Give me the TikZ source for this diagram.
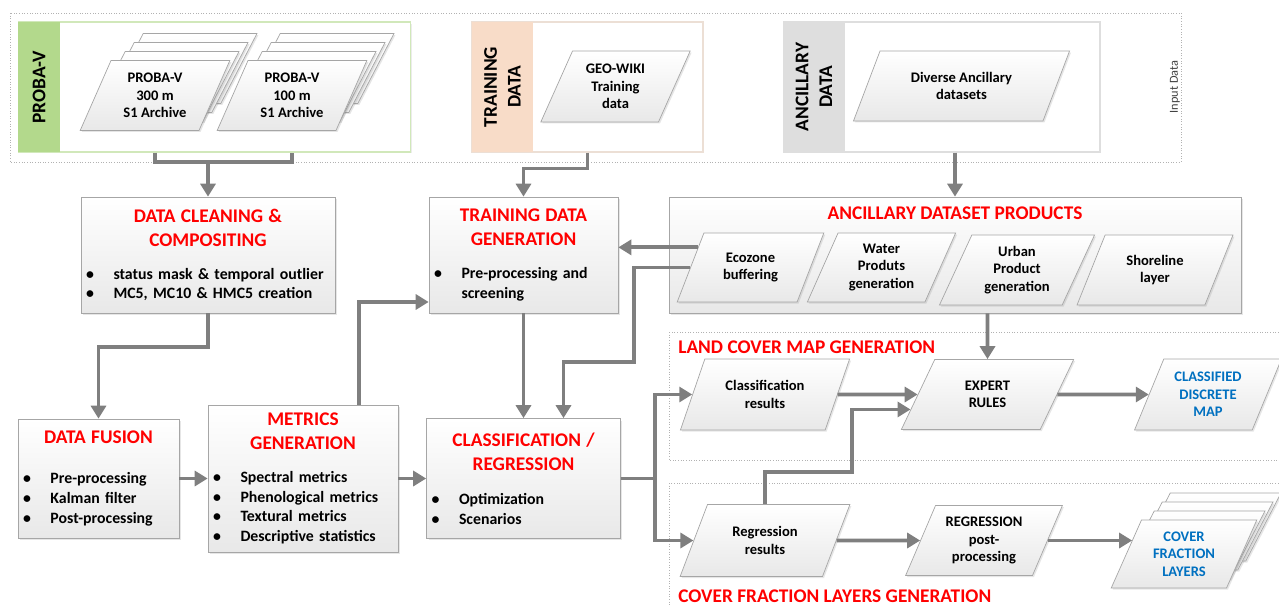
\documentclass[tikz,border=0pt]{standalone}
\usepackage{fontspec}
\setmainfont{Carlito}
\usetikzlibrary{shapes.geometric, arrows.meta, shadows}

\definecolor{linegrey}{HTML}{7F7F7F}
\definecolor{edgegrey}{HTML}{A6A6A6}
\definecolor{titlered}{HTML}{FF0000}
\definecolor{outblue}{HTML}{0070C0}
\definecolor{probagreen}{HTML}{B3D98C}
\definecolor{trainpeach}{HTML}{F8DCC8}
\definecolor{ancilgrey}{HTML}{DEDEDE}

\newcommand{\titlefont}{\fontsize{11}{13.6}\selectfont\bfseries}
\newcommand{\boxtitle}[2][7.4pt]{{\centering\color{titlered}\titlefont #2\par}\vspace{#1}}
\newcommand{\bitem}[2][0.55cm]{\noindent\hangindent=#1\hangafter=1%
\makebox[#1][l]{\textbullet}#2\par}

\tikzstyle{process} = [rectangle, 
draw=edgegrey, 
top color=white, bottom color=gray!18,
drop shadow={shadow xshift=0.04cm, shadow yshift=-0.04cm, opacity=0.2},
inner xsep=0.1cm, inner ysep=0.05cm,
align=left,
font=\fontsize{9}{11.3}\selectfont\bfseries]
\tikzstyle{io} = [trapezium, 
trapezium stretches=true,
trapezium left angle=65, 
trapezium right angle=115, 
minimum width=3cm, 
minimum height=1.4cm, align=center, 
draw=edgegrey, top color=white, bottom color=gray!18,
drop shadow={shadow xshift=0.03cm, shadow yshift=-0.03cm, opacity=0.2},
font=\fontsize{8.3}{9.9}\selectfont\bfseries]
\tikzstyle{panel} = [rectangle, fill=white, line width=0.6pt,
minimum height=2.6cm,
drop shadow={shadow xshift=0.03cm, shadow yshift=-0.03cm, opacity=0.15}]
\tikzstyle{strip} = [rectangle, rotate=90, minimum width=2.6cm, align=center,
font=\fontsize{11}{13.5}\selectfont\bfseries]
\tikzstyle{groupframe} = [densely dotted, draw=gray!60, line width=0.5pt]
\tikzstyle{grouptitle} = [anchor=west, text=titlered, font=\titlefont, inner sep=0pt]
\tikzstyle{arrow} = [line width=2.2pt, draw=linegrey, ->, >={Triangle[length=0.26cm, width=0.3cm]}]
\tikzstyle{conn} = [line width=2.2pt, draw=linegrey]

\begin{document}
\begin{tikzpicture}[x=0.02cm, y=-0.02cm]
\useasboundingbox (0,0) rectangle (1279,606);

% input data
\draw [groupframe] (10,13) rectangle (1181,162);
\node (input_label) [rotate=90, font=\fontsize{7}{8}\selectfont, text=black!75] at (1175,87) {Input Data};

\node (proba_panel) [panel, draw=probagreen!60, minimum width=7.86cm] at (214.5,87) {};
\node (proba_strip) [strip, fill=probagreen, minimum height=0.84cm] at (39,87) {PROBA-V};
\node (training_panel) [panel, draw=trainpeach!80!gray!60, minimum width=4.62cm] at (587.5,87) {};
\node (training_strip) [strip, fill=trainpeach, minimum height=1.22cm] at (502.5,87) {TRAINING\\DATA};
\node (ancillary_panel) [panel, draw=ancilgrey, minimum width=6.34cm] at (941.5,87) {};
\node (ancillary_strip) [strip, fill=ancilgrey, minimum height=1.24cm] at (814,87) {ANCILLARY\\DATA};

\node (proba300_c) [io] at (182,68.5) {};
\node (proba300_b) [io] at (173,77.5) {};
\node (proba300_a) [io] at (164,86.5) {};
\node (proba300) [io] at (155,95.5) {PROBA-V\\300 m\\S1 Archive};
\node (proba100_c) [io] at (319,68.5) {};
\node (proba100_b) [io] at (310,77.5) {};
\node (proba100_a) [io] at (301,86.5) {};
\node (proba100) [io] at (292,95.5) {PROBA-V\\100 m\\S1 Archive};

\node (geowiki) [io, minimum height=1.42cm] at (615.5,86.5) {GEO-WIKI\\Training\\data};
\node (diverse) [io, minimum width=4.34cm] at (961.5,86) {Diverse Ancillary\\datasets};

% processing
\node (cleaning) [process, text width=4.88cm, minimum height=2.32cm] at (208,255)
{\boxtitle{DATA CLEANING \&\\ COMPOSITING}
\bitem{status mask \& temporal outlier}
\bitem{MC5, MC10 \& HMC5 creation}\vspace*{0.34cm}};
\node (tdg) [process, text width=3.58cm, minimum height=2.32cm] at (523.5,255)
{\boxtitle{TRAINING DATA\\ GENERATION}
\bitem{Pre-processing and\newline screening}\vspace*{0.34cm}};
\node (products) [process, minimum width=11.44cm, minimum height=2.32cm,
label={[anchor=north, text=titlered, font=\titlefont, yshift=-0.07cm]north:ANCILLARY DATASET PRODUCTS}] at (955,255) {};

\node (ecozone) [io, minimum width=2.94cm, minimum height=1.38cm] at (750.5,267.5) {Ecozone\\buffering};
\node (water) [io, minimum width=2.98cm, minimum height=1.38cm] at (881.5,267.5) {Water\\Produts\\generation};
\node (urban) [io, minimum width=3.12cm] at (1017,270) {Urban\\Product\\generation};
\node (shoreline) [io, minimum width=3.12cm] at (1155,270) {Shoreline\\layer};

\node (fusion) [process, text width=3.02cm, minimum height=2.38cm] at (98.5,478.5)
{\boxtitle[11.4pt]{DATA FUSION}
\bitem{Pre-processing}
\bitem{Kalman filter}
\bitem{Post-processing}\vspace*{0.44cm}};
\node (metrics) [process, text width=3.6cm, minimum height=2.94cm] at (303,478.5)
{\boxtitle{METRICS\\ GENERATION}
\bitem{Spectral metrics}
\bitem{Phenological metrics}
\bitem{Textural metrics}
\bitem{Descriptive statistics}};
\node (classif) [process, text width=3.68cm, minimum height=2.4cm] at (523.5,478.5)
{\boxtitle[8pt]{CLASSIFICATION /\\ REGRESSION}
\bitem{Optimization}
\bitem{Scenarios}};

% land cover map generation
\draw [groupframe] (669,332) rectangle (1290,460);
\node (lcm_title) [grouptitle] at (678,347) {LAND COVER MAP GENERATION};
\node (class_results) [io, minimum width=3.4cm, minimum height=1.42cm] at (765,394.5) {Classification\\results};
\node (expert) [io, minimum width=3.46cm] at (987.5,394.5) {EXPERT\\RULES};
\node (classified) [io, minimum width=2.96cm, minimum height=1.42cm, text=outblue] at (1208,394.5) {CLASSIFIED\\DISCRETE\\MAP};

% cover fraction layers generation
\draw [groupframe] (669,483) rectangle (1290,620);
\node (cfl_title) [grouptitle] at (678,596) {COVER FRACTION LAYERS GENERATION};
\node (reg_results) [io, minimum width=3.4cm, minimum height=1.44cm] at (765,540.5) {Regression\\results};
\node (reg_post) [io, minimum width=3.16cm] at (984,540.5) {REGRESSION\\post-\\processing};
\node (cover_c) [io, minimum width=2.92cm, minimum height=1.36cm] at (1208,527) {};
\node (cover_b) [io, minimum width=2.92cm, minimum height=1.36cm] at (1200,536) {};
\node (cover_a) [io, minimum width=2.92cm, minimum height=1.36cm] at (1192,545) {};
\node (cover) [io, minimum width=2.92cm, minimum height=1.36cm, text=outblue] at (1184,554) {COVER\\FRACTION\\LAYERS};

% connectors
\coordinate (proba_join) at (208,162);
\draw [conn] (proba300.south |- proba_panel.south) |- (proba_join) -| (proba100.south |- proba_panel.south);
\draw [arrow] (proba_join) -- (cleaning);
\draw [arrow] (training_panel.south) -- ++(0,16) -| (tdg);
\draw [arrow] (products.north |- ancillary_panel.south) -- (products.north);
\draw [arrow] (cleaning.south) -- ++(0,34) -| (fusion);
\draw [arrow] (fusion) -- (metrics);
\draw [arrow] ([xshift=1.12cm]metrics.north) |- ([yshift=-0.94cm]tdg.west);
\draw [arrow] (metrics) -- (classif);
\draw [arrow] (tdg) -- (classif);
\draw [arrow] (ecozone.159) -- (ecozone.159 -| tdg.east);
\coordinate (eco_turn) at (634,362);
\draw [arrow] (ecozone.west) -| (eco_turn) -| ([xshift=0.8cm]classif.north);
\draw [arrow] (products.south -| expert.north) -- (expert);
\coordinate (split) at (655,478.5);
\draw [conn] (classif.east) -- (split);
\draw [arrow] (split) |- (class_results);
\draw [arrow] (split) |- (reg_results);
\draw [arrow] (class_results) -- (expert);
\coordinate (reg_turn) at (852,472);
\draw [arrow] (reg_results.north) |- (reg_turn) |- (expert.191);
\draw [arrow] (expert) -- (classified);
\draw [arrow] (reg_results) -- (reg_post);
\draw [arrow] (reg_post.east) -- (reg_post.east -| cover.165);

\end{tikzpicture}
\end{document}
